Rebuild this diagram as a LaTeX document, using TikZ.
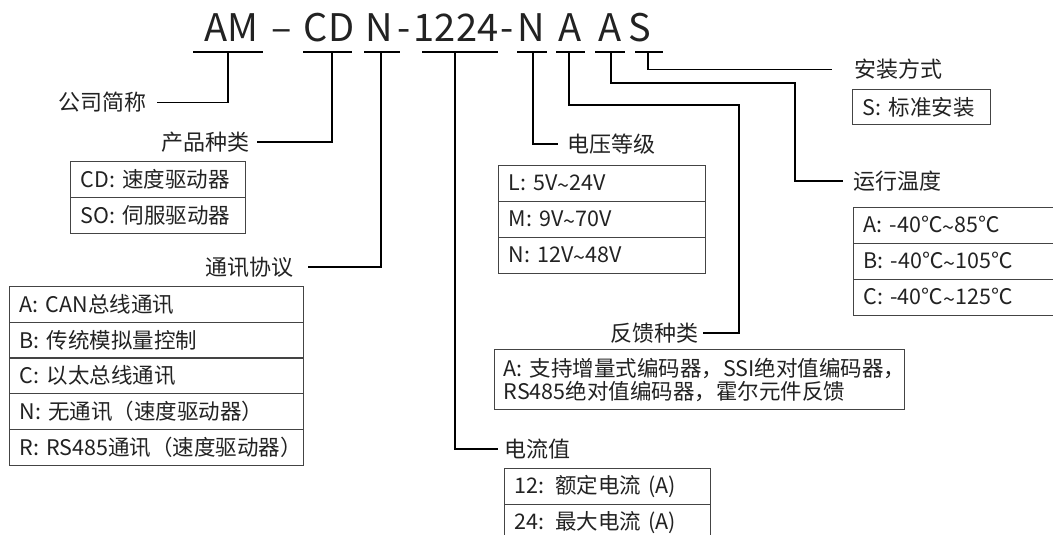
\documentclass[tikz,border=0pt]{standalone}
\usepackage{fontspec}
\setmainfont{Noto Sans CJK SC}
\definecolor{txt}{HTML}{222222}
\definecolor{boxc}{HTML}{444444}
\newcommand{\tld}{\raisebox{-0.14em}{\textasciitilde}}
\begin{document}
\begin{tikzpicture}[x=1pt,y=-1pt,
  conn/.style={draw=black, line width=1.8pt},
  uline/.style={draw=black, line width=1.8pt},
  lab/.style={inner sep=0pt, font=\fontsize{22}{26}\selectfont, text=txt},
  titletxt/.style={anchor=base, inner sep=0pt, font=\fontsize{38}{40}\selectfont, text=txt},
  rowbox/.style={draw=boxc, line width=1.3pt, anchor=north west, inner xsep=10pt, inner ysep=0pt,
    minimum height=36pt, align=left, font=\fontsize{21.5}{24}\selectfont, text=txt}]
\useasboundingbox (0,0) rectangle (1053,535);
\clip (0,0) rectangle (1053,535);
\fill[white] (0,0) rectangle (1053,535);

% title
\node[titletxt] (t1) at (231,42) {AM};
\node[titletxt] (t2) at (282,42) {–};
\node[titletxt] (t3) at (329,42) {CD};
\node[titletxt] (t4) at (379,42) {N};
\node[titletxt] (t5) at (404,42) {-};
\node[titletxt] (t6) at (456,42) {1224};
\node[titletxt] (t7) at (507,42) {-};
\node[titletxt] (t8) at (531,42) {N};
\node[titletxt] (t9) at (570,42) {A};
\node[titletxt] (t10) at (610,42) {A};
\node[titletxt] (t11) at (640,42) {S};

% underline centres
\coordinate (u1) at (228,52);
\coordinate (u2) at (332,52);
\coordinate (u3) at (381,52);
\coordinate (u4) at (455,52);
\coordinate (u5) at (533,52);
\coordinate (u6) at (569,52);
\coordinate (u7) at (611,52);
\coordinate (u8) at (648,52);
\draw[uline] (u1) ++(-35,0) -- ++(70,0);
\draw[uline] (u2) ++(-29,0) -- ++(49,0);
\draw[uline] (u3) ++(-17,0) -- ++(36,0);
\draw[uline] (u4) ++(-33,0) -- ++(76,0);
\draw[uline] (u5) ++(-16,0) -- ++(30,0);
\draw[uline] (u6) ++(-13,0) -- ++(29,0);
\draw[uline] (u7) ++(-16,0) -- ++(30,0);
\draw[uline] (u8) ++(-13,0) -- ++(28,0);

% labels
\node[lab, anchor=east] (co) at (147,102.5) {公司简称};
\node[lab, anchor=east] (prod) at (250,142) {产品种类};
\node[lab, anchor=east] (proto) at (294,267) {通讯协议};
\node[lab, anchor=west] (cur) at (504,449) {电流值};
\node[lab, anchor=west] (volt) at (567,144) {电压等级};
\node[lab, anchor=east] (fb) at (699,333) {反馈种类};
\node[lab, anchor=west] (temp) at (853,181) {运行温度};
\node[lab, anchor=west] (mount) at (854,69.5) {安装方式};

\coordinate (c6) at (739,105);
\coordinate (c7) at (795,83);

% connectors
\draw[conn, shorten >=10pt] (u1) |- (co);
\draw[conn, shorten >=7pt] (u2) |- (prod);
\draw[conn, shorten >=14pt] (u3) |- (proto);
\draw[conn, shorten >=6pt] (u4) |- (cur);
\draw[conn, shorten >=9pt] (u5) |- (volt);
\draw[conn, shorten >=4pt] (u6) |- (c6) |- (fb);
\draw[conn, shorten >=10pt] (u7) |- (c7) |- (temp);
\draw[conn, shorten >=22pt] (u8) |- (mount);

% product type box
\node[rowbox, text width=155pt] (cd1) at (70,160.7) {\mbox{CD: 速度驱动器}};
\node[rowbox, text width=155pt] (cd2) at (70,196.7) {\mbox{SO: 伺服驱动器}};

% protocol box
\node[rowbox, text width=274pt, minimum height=35.7pt] (p1) at (9,286) {\mbox{A: CAN总线通讯}};
\node[rowbox, text width=274pt, minimum height=35.7pt] (p2) at (9,321.7) {\mbox{B: 传统模拟量控制}};
\node[rowbox, text width=274pt, minimum height=35.7pt] (p3) at (9,357.4) {\mbox{C: 以太总线通讯}};
\node[rowbox, text width=274pt, minimum height=35.7pt] (p4) at (9,393.1) {\mbox{N: 无通讯（速度驱动器）}};
\node[rowbox, text width=274pt, minimum height=35.7pt] (p5) at (9,428.8) {\mbox{R: RS485通讯（速度驱动器）}};

% voltage box
\node[rowbox, text width=187pt] (v1) at (498,165) {\mbox{L: 5V\tld 24V}};
\node[rowbox, text width=187pt] (v2) at (498,201) {\mbox{M: 9V\tld 70V}};
\node[rowbox, text width=187pt] (v3) at (498,237) {\mbox{N: 12V\tld 48V}};

% temperature box
\node[rowbox, text width=200pt] (r1) at (853,207) {\mbox{A: -40℃\tld 85℃}};
\node[rowbox, text width=200pt] (r2) at (853,243) {\mbox{B: -40℃\tld 105℃}};
\node[rowbox, text width=200pt] (r3) at (853,279) {\mbox{C: -40℃\tld 125℃}};

% mounting box
\node[rowbox, text width=118pt, minimum height=35pt] (m1) at (852,89) {\mbox{S: 标准安装}};

% feedback box
\node[rowbox, text width=392pt, inner xsep=9pt, minimum height=60pt,
  font=\fontsize{21.5}{23}\selectfont] (f1) at (494,349)
  {\mbox{A: 支持增量式编码器，SSI绝对值编码器，}\\\mbox{RS485绝对值编码器，霍尔元件反馈}};

% current box
\node[rowbox, text width=186pt] (i1) at (504,468) {\mbox{12: 额定电流 (A)}};
\node[rowbox, text width=186pt] (i2) at (504,504) {\mbox{24: 最大电流 (A)}};
\end{tikzpicture}
\end{document}
